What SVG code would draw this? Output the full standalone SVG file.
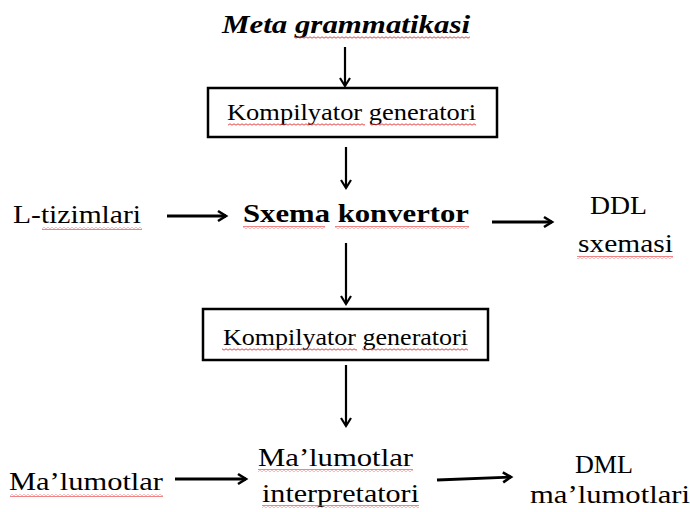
<svg xmlns="http://www.w3.org/2000/svg" width="690" height="512" viewBox="0 0 690 512">
<style>
text{font-family:"Liberation Serif","Times New Roman",serif;fill:#000;}
.t{font-size:26px;}
.bx{font-size:23px;}
.b{font-size:26px;font-weight:bold;}
.bi{font-size:26px;font-weight:bold;font-style:italic;}
.box{fill:#fff;stroke:#000;stroke-width:2.5;}
.arr{stroke:#000;stroke-width:2.2;fill:none;marker-end:url(#ah);}
.harr{stroke:#000;stroke-width:2.8;fill:none;marker-end:url(#ah2);}
.sq{fill:url(#wave);}
</style>
<defs>
<marker id="ah" markerUnits="userSpaceOnUse" markerWidth="14" markerHeight="14" refX="11" refY="7" orient="auto">
<path d="M3,2 L11,7 L3,12" fill="none" stroke="#000" stroke-width="2.2"/>
</marker>
<marker id="ah2" markerUnits="userSpaceOnUse" markerWidth="14" markerHeight="14" refX="11" refY="7" orient="auto">
<path d="M3,2 L11,7 L3,12" fill="none" stroke="#000" stroke-width="2.6"/>
</marker>
<pattern id="wave" patternUnits="userSpaceOnUse" width="4" height="3">
<path d="M0,2.2 L2,0.8 L4,2.2" fill="none" stroke="#e03030" stroke-width="0.9"/>
</pattern>
</defs>

<g id="connectors">
<line class="arr" x1="345" y1="47" x2="345" y2="86"/>
<line class="arr" x1="346" y1="147" x2="346" y2="188"/>
<line class="harr" x1="167" y1="216" x2="226" y2="216"/>
<line class="harr" x1="492" y1="222" x2="552" y2="222"/>
<line class="arr" x1="346" y1="243" x2="346" y2="304"/>
<line class="arr" x1="346" y1="365" x2="346" y2="426"/>
<line class="harr" x1="175" y1="479" x2="246" y2="479"/>
<line class="harr" x1="437" y1="480" x2="511" y2="477"/>
</g>

<g id="meta">
<text class="bi" x="222" y="33" textLength="248" lengthAdjust="spacingAndGlyphs">Meta grammatikasi</text>
<rect class="sq" x="294" y="36" width="176" height="3"/>
</g>

<g id="kompilyator1">
<rect class="box" x="208" y="88" width="289" height="49"/>
<text class="bx" x="227" y="120" textLength="249" lengthAdjust="spacingAndGlyphs">Kompilyator generatori</text>
<rect class="sq" x="228" y="123" width="137" height="3"/>
<rect class="sq" x="370" y="123" width="106" height="3"/>
</g>

<g id="ltizimlari">
<text class="t" x="13" y="223" textLength="128" lengthAdjust="spacingAndGlyphs">L-tizimlari</text>
<rect class="sq" x="42" y="227" width="100" height="3"/>
</g>

<g id="sxema">
<text class="b" x="243" y="222" textLength="226" lengthAdjust="spacingAndGlyphs">Sxema konvertor</text>
<rect class="sq" x="243" y="226" width="82" height="3"/>
<rect class="sq" x="335" y="226" width="134" height="3"/>
</g>

<g id="ddl">
<text class="t" x="590" y="214" textLength="57" lengthAdjust="spacingAndGlyphs">DDL</text>
<text class="t" x="578" y="252" textLength="95" lengthAdjust="spacingAndGlyphs">sxemasi</text>
<rect class="sq" x="577" y="256" width="96" height="3"/>
</g>

<g id="kompilyator2">
<rect class="box" x="203" y="309" width="285" height="51"/>
<text class="bx" x="223" y="345" textLength="245" lengthAdjust="spacingAndGlyphs">Kompilyator generatori</text>
<rect class="sq" x="222" y="348" width="135" height="3"/>
<rect class="sq" x="362" y="348" width="106" height="3"/>
</g>

<g id="malumotlar">
<text class="t" x="9" y="490" textLength="154" lengthAdjust="spacingAndGlyphs">Ma’lumotlar</text>
<rect class="sq" x="10" y="494" width="153" height="3"/>
</g>

<g id="interpretator">
<text class="t" x="258" y="466" textLength="155" lengthAdjust="spacingAndGlyphs">Ma’lumotlar</text>
<rect class="sq" x="258" y="469" width="155" height="3"/>
<text class="t" x="262" y="502" textLength="157" lengthAdjust="spacingAndGlyphs">interpretatori</text>
<rect class="sq" x="262" y="505" width="157" height="3"/>
</g>

<g id="dml">
<text class="t" x="575" y="473" textLength="58" lengthAdjust="spacingAndGlyphs">DML</text>
<text class="t" x="530" y="503" textLength="160" lengthAdjust="spacingAndGlyphs">ma’lumotlari</text>
</g>
</svg>
